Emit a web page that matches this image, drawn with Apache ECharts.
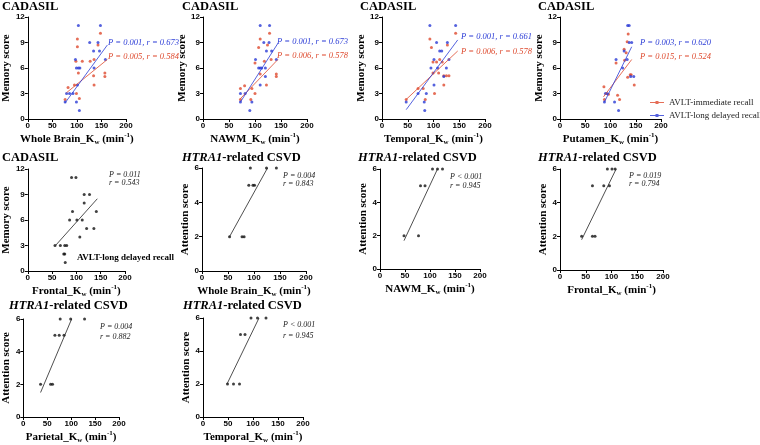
<!DOCTYPE html>
<html><head><meta charset="utf-8">
<script src="https://cdn.jsdelivr.net/npm/echarts@6/dist/echarts.min.js"></script>
<style>html,body{margin:0;padding:0;background:#fff}#c{width:760px;height:445px}</style>
</head><body><div id="c"></div>
<script>
// ---- data ----
const xTicksMax = 200;
const memoryTicks = [0, 3, 6, 9, 12];
const attentionTicks = [0, 2, 4, 6];

const wbDelayed = [[103,11],[148,11],[126,9],[143,9],[134,8],[146,8],[97,7],[158,7],[99,6],[103,6],[106,6],[135,6],[101,4],[79,3],[85,3],[92,3],[76,2],[99,2],[105,1]];
const wbImmediate = [[101,9.4],[148,10.1],[143,8.7],[101,8.5],[98,6.8],[111,6.8],[127,6.8],[135,7],[103,5.4],[134,5.1],[157,5.4],[157,5],[135,4],[99,3],[82,3.7],[95,4],[105,2.4],[76,2.3]];
const wbDelayedFit = [[76,1.9],[162,8.7]];
const wbImmediateFit = [[79,3.1],[162,7.0]];

const nawmDelayed = [[110,11],[128,11],[117,9],[127,9],[122,8],[132,8],[101,7],[141,7],[107,6],[110,6],[113,6],[120,6],[120,5],[110,4],[72,3],[81,3],[72,2],[94,2],[90,1]];
const nawmImmediate = [[110,9.4],[128,10.1],[124,8.7],[107,8.4],[100,6.6],[118,6.8],[131,7],[110,5.3],[141,5.3],[141,5],[122,4],[100,3],[80,3.9],[72,3.6],[94,3.6],[92,2.3],[72,2.3]];
const nawmDelayedFit = [[72,2],[144,8.9]];
const nawmImmediateFit = [[72,2.4],[144,7]];

const tempDelayed = [[93,11],[143,11],[106,9],[127,9],[112,8],[116,8],[101,7],[130,7],[95,6],[108,6],[125,6],[120,5],[101,4],[70,3],[86,3],[47,2],[82,2],[83,1]];
const tempImmediate = [[93,9.4],[143,10.1],[96,8.4],[127,8.7],[99,6.7],[106,6.7],[112,7],[117,6.7],[99,5.4],[110,5.4],[120,5.1],[125,5.1],[130,5.1],[120,4],[102,3],[70,3.6],[47,2.3],[84,2.3],[80,3.6]];
const tempDelayedFit = [[47,1.1],[147,9.3]];
const tempImmediateFit = [[47,2.3],[147,8.0]];

const putDelayed = [[134,11],[137,11],[137,9],[142,9],[127,8],[111,7],[133,7],[124,6],[140,5],[146,5],[90,3],[93,3],[88,2],[108,2],[116,1]];
const putImmediate = [[135,10],[133,9.1],[127,8.2],[131,7.8],[128,6.9],[111,6.6],[139,5.2],[141,5.2],[134,4.9],[147,4],[114,2.8],[87,3.8],[96,2.9],[118,2.3],[88,2.3]];
const putDelayedFit = [[88,2],[142,8.5]];
const putImmediateFit = [[86,2.6],[142,7]];

const frontalMemory = [[90,11],[99,11],[116,9],[127,9],[116,8],[92,7],[141,7],[86,6],[101,6],[112,6],[121,5],[136,5],[107,4],[56,3],[67,3],[76,3],[80,3],[74,2],[76,2],[77,1]];
const frontalMemoryFit = [[57,3],[143,8.5]];

const wbAttention = [[93,6],[124,6],[143,6],[90,5],[98,5],[101,5],[53,2],[77,2],[81,2]];
const wbAttentionFit = [[53,2],[126,6]];
const nawmAttention = [[105,6],[115,6],[125,6],[81,5],[90,5],[48,2],[77,2]];
const nawmAttentionFit = [[48,1.7],[115,6]];
const frontalAttention = [[92,6],[101,6],[107,6],[63,5],[85,5],[96,5],[42,2],[63,2],[68,2]];
const frontalAttentionFit = [[42,1.8],[109,6]];
const parietalAttention = [[77,6],[99,6],[128,6],[66,5],[75,5],[85,5],[36,2],[57,2],[61,2]];
const parietalAttentionFit = [[36,1.5],[101,6]];
const temporalAttention = [[96,6],[109,6],[126,6],[75,5],[84,5],[49,2],[61,2],[73,2]];
const temporalAttentionFit = [[48,2],[112,6]];

const regionNames = ['Whole Brain','NAWM','Temporal','Putamen','Frontal','Whole Brain','NAWM','Frontal','Parietal','Temporal'];
const yNames = ['Memory score','Memory score','Memory score','Memory score','Memory score','Attention score','Attention score','Attention score','Attention score','Attention score'];
const statsBlue = ['P = 0.001, r = 0.673','P = 0.001, r = 0.673','P = 0.001, r = 0.661','P = 0.003, r = 0.620'];
const statsRed = ['P = 0.005, r = 0.584','P = 0.006, r = 0.578','P = 0.006, r = 0.578','P = 0.015, r = 0.524'];
const statsBlackP = ['P = 0.011','P = 0.004','P < 0.001','P = 0.019','P = 0.004','P < 0.001'];
const statsBlackR = ['r = 0.543','r = 0.843','r = 0.945','r = 0.794','r = 0.882','r = 0.945'];
const legendNames = ['AVLT-immediate recall','AVLT-long delayed recall'];

// ---- layout ----
const RED = '#de4a2e', BLUE = '#2a3bd6';
const grids = [
  {left:23, top:17, width:103, height:102},
  {left:203, top:17, width:104, height:102},
  {left:382, top:17, width:103, height:102},
  {left:560, top:17, width:101, height:102},
  {left:23, top:169, width:102, height:102},
  {left:202, top:168, width:104, height:103},
  {left:380, top:169, width:100, height:100},
  {left:560, top:169, width:103, height:101},
  {left:22, top:319, width:97, height:99},
  {left:203, top:318, width:100, height:100}
];
const serif = '"Liberation Serif", "Times New Roman", serif';
const sans = '"Liberation Sans", Arial, sans-serif';

const xAxes = grids.map((g, i) => ({
  gridIndex: i, type: 'value', min: 0, max: xTicksMax, interval: 50,
  axisLine: {lineStyle: {color: '#000', width: 1}},
  axisTick: {length: 3, lineStyle: {color: '#000'}},
  splitLine: {show: false},
  axisLabel: {color: '#000', fontFamily: sans, fontWeight: 'bold', fontSize: 8, margin: 3},
  name: '{b|' + regionNames[i] + '_K}{s|w}{b| (min}{p|-1}{b|)}',
  nameLocation: 'middle', nameGap: 13,
  nameTextStyle: {
    rich: {
      b: {fontFamily: serif, fontWeight: 'bold', fontSize: 11, color: '#000', lineHeight: 14},
      s: {fontFamily: serif, fontWeight: 'bold', fontSize: 7, color: '#000', verticalAlign: 'bottom', lineHeight: 14},
      p: {fontFamily: serif, fontWeight: 'bold', fontSize: 7, color: '#000', verticalAlign: 'top', lineHeight: 14}
    }
  }
}));
const yAxes = grids.map((g, i) => {
  const mem = i < 5;
  const ticks = mem ? memoryTicks : attentionTicks;
  return {
    gridIndex: i, type: 'value', min: ticks[0], max: ticks[ticks.length - 1], interval: ticks[1] - ticks[0],
    axisLine: {show: true, lineStyle: {color: '#000', width: 1}},
    axisTick: {show: true, length: 3, lineStyle: {color: '#000'}},
    splitLine: {show: false},
    axisLabel: {color: '#000', fontFamily: sans, fontWeight: 'bold', fontSize: 8, margin: 3},
    name: yNames[i], nameLocation: 'middle', nameGap: 10,
    nameTextStyle: {fontFamily: serif, fontWeight: 'bold', fontSize: 11, color: '#000'}
  };
});

const series = [];
function sc(idx, name, data, color) {
  series.push({type: 'scatter', name, xAxisIndex: idx, yAxisIndex: idx, data, symbol: 'circle', symbolSize: 3,
    itemStyle: {color}, silent: true});
}
function fit(idx, name, data, color) {
  series.push({type: 'line', name, xAxisIndex: idx, yAxisIndex: idx, data, symbol: 'none',
    lineStyle: {color, width: 0.8}, silent: true});
}
const memPanels = [
  [wbImmediate, wbDelayed, wbImmediateFit, wbDelayedFit],
  [nawmImmediate, nawmDelayed, nawmImmediateFit, nawmDelayedFit],
  [tempImmediate, tempDelayed, tempImmediateFit, tempDelayedFit],
  [putImmediate, putDelayed, putImmediateFit, putDelayedFit]
];
memPanels.forEach((p, i) => {
  sc(i, legendNames[0], p[0], RED);
  sc(i, legendNames[1], p[1], BLUE);
  fit(i, legendNames[0], p[2], RED);
  fit(i, legendNames[1], p[3], BLUE);
});
const blackPanels = [
  [4, frontalMemory, frontalMemoryFit],
  [5, wbAttention, wbAttentionFit],
  [6, nawmAttention, nawmAttentionFit],
  [7, frontalAttention, frontalAttentionFit],
  [8, parietalAttention, parietalAttentionFit],
  [9, temporalAttention, temporalAttentionFit]
];
blackPanels.forEach(p => {
  sc(p[0], 'pts' + p[0], p[1], '#111');
  fit(p[0], 'fit' + p[0], p[2], '#222');
});

// ---- text ----
const graphic = [];
function txt(x, y, text, font, fill, rich) {
  const st = {text, x, y, font, fill, verticalAlign: 'middle', textVerticalAlign: 'middle'};
  if (rich) st.rich = rich;
  graphic.push({type: 'text', silent: true, style: st});
}
const titleFont = 'bold 12.5px ' + serif;
const italicRich = {i: {fontStyle: 'italic', fontWeight: 'bold', fontSize: 12.5, fontFamily: serif, fill: '#000'}};
[[2,7],[182,7],[360,7],[538,7],[2,158]].forEach(p => txt(p[0], p[1], 'CADASIL', titleFont, '#000'));
[[182,158],[358,158],[538,158],[9,306],[183,306]].forEach(p => txt(p[0], p[1], '{i|HTRA1}-related CSVD', titleFont, '#000', italicRich));

const statFont = 'italic 8.5px ' + serif;
[[108,43,57],[277,42,56],[461,37,52],[640,43,57]].forEach((p, i) => {
  txt(p[0], p[1], statsBlue[i], statFont, BLUE);
  txt(p[0], p[2], statsRed[i], statFont, RED);
});
[[109,175,183],[283,176,184],[450,177,186],[629,176,184],[100,327,337],[283,325,336]].forEach((p, i) => {
  txt(p[0], p[1], statsBlackP[i], 'italic 8px ' + serif, '#222');
  txt(p[0], p[2], statsBlackR[i], 'italic 8px ' + serif, '#222');
});
txt(77, 258, 'AVLT-long delayed recall', 'bold 9px ' + serif, '#000');

const legendIcon = 'path://M0,1.1H14V1.9H0Z M5.5,0H8.5V3H5.5Z';
const option = {
  backgroundColor: '#fff',
  animation: false,
  grid: grids.map(g => Object.assign({containLabel: false}, g)),
  xAxis: xAxes,
  yAxis: yAxes,
  series,
  legend: {
    left: 645, top: 93, orient: 'vertical', itemWidth: 14, itemHeight: 3, itemGap: 4,
    selectedMode: false,
    textStyle: {fontFamily: serif, fontSize: 9, color: '#222'},
    data: legendNames.map(n => ({name: n, icon: legendIcon}))
  },
  graphic
};
const chart = echarts.init(document.getElementById('c'), null, {renderer: 'canvas'});
chart.setOption(option);
</script></body></html>
